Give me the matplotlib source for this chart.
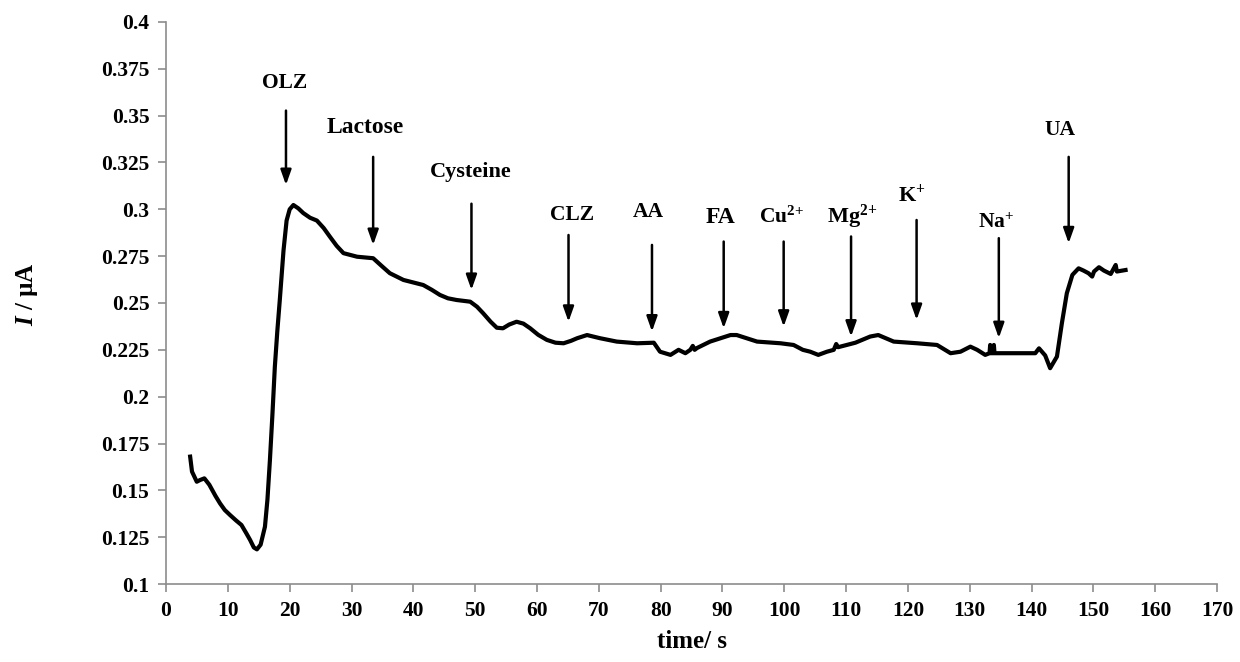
import matplotlib
matplotlib.use('Agg')
import matplotlib.pyplot as plt

# amperometric response, time (s) vs current (uA)
time_s = [
    3.9, 4.2, 4.97, 5.5, 6.2, 7.0, 8.0, 8.74, 9.5, 10.36, 11.3, 12.2, 13.0, 13.6,
    14.2, 14.7, 15.3, 16.0, 16.4, 16.8, 17.2, 17.6, 18.0, 18.4, 19.0, 19.5, 20.0,
    20.6, 21.4, 22.2, 23.3, 24.4, 25.5, 26.5, 27.6, 28.7, 30.9, 33.5, 34.8, 36.2,
    38.4, 41.6, 43.0, 44.3, 45.6, 47.0, 49.2, 50.3, 51.3, 52.5, 53.5, 54.5, 55.5,
    56.7, 57.8, 58.9, 60.2, 61.6, 63.0, 64.3, 65.5, 66.5, 68.1, 69.2, 70.2, 72.9,
    76.2, 78.9, 79.9, 81.6, 82.9, 84.0, 84.8, 85.2, 85.5, 85.9, 88.0, 91.3, 92.3,
    95.6, 99.4, 101.5, 103.0, 104.2, 105.5, 106.9, 108.0, 108.4, 108.7, 110.1,
    111.5, 113.9, 115.2, 117.7, 121.5, 124.7, 126.9, 128.5, 130.1, 131.2, 132.5,
    133.2, 133.3, 133.4, 133.8, 133.9, 134.0, 140.6, 141.2, 142.2, 143.0, 144.1,
    144.9, 145.7, 146.6, 147.6, 148.4, 149.2, 149.8, 150.1, 150.9, 151.7, 152.8,
    153.3, 153.6, 153.8, 155.2,
]
current_ua = [
    0.168, 0.160, 0.1546, 0.1555, 0.1564, 0.153, 0.147, 0.143, 0.1395, 0.1368,
    0.134, 0.1315, 0.127, 0.1235, 0.1195, 0.1185, 0.121, 0.1306, 0.145, 0.166,
    0.19, 0.216, 0.235, 0.2516, 0.278, 0.294, 0.300, 0.3023, 0.3005, 0.298,
    0.2955, 0.294, 0.290, 0.2854, 0.2805, 0.2766, 0.2747, 0.2739, 0.270, 0.2659,
    0.2623, 0.2596, 0.257, 0.2543, 0.2525, 0.2516, 0.2507, 0.248, 0.2445, 0.240,
    0.2368, 0.2365, 0.2385, 0.2400, 0.239, 0.2365, 0.233, 0.2303, 0.2288, 0.2285,
    0.2298, 0.2312, 0.2329, 0.232, 0.2312, 0.2294, 0.2285, 0.2288, 0.224, 0.2223,
    0.225, 0.2232, 0.225, 0.2271, 0.225, 0.226, 0.2294, 0.2329, 0.2329, 0.2294,
    0.2285, 0.2276, 0.2250, 0.224, 0.2223, 0.224, 0.225, 0.2281, 0.2264, 0.2276,
    0.2288, 0.2321, 0.2329, 0.2294, 0.2285, 0.2276, 0.2232, 0.224, 0.2267, 0.225,
    0.2223, 0.2232, 0.2276, 0.2232, 0.2232, 0.2276, 0.2232, 0.2232, 0.2258, 0.222,
    0.2152, 0.2214, 0.2392, 0.2552, 0.265, 0.2685, 0.2673, 0.2659, 0.2641, 0.2668,
    0.2691, 0.2673, 0.2655, 0.2685, 0.2703, 0.2668, 0.2676,
]

# injections: label, arrow time, arrow top, arrow tip, label position
species = ['OLZ', 'Lactose', 'Cysteine', 'CLZ', 'AA', 'FA',
           r'Cu$^{\text{2+}}$', r'Mg$^{\text{2+}}$', r'K$^{\text{+}}$',
           r'Na$^{\text{+}}$', 'UA']
arrow_t = [19.4, 33.5, 49.4, 65.1, 78.6, 90.2, 99.9, 110.8, 121.4, 134.7, 146.0]
arrow_top = [0.3527, 0.328, 0.303, 0.2863, 0.281, 0.2828, 0.2828, 0.2855, 0.2943, 0.2846, 0.328]
arrow_tip = [0.313, 0.281, 0.257, 0.240, 0.2348, 0.2365, 0.2374, 0.2321, 0.241, 0.2313, 0.2819]
label_x = [19.2, 32.2, 49.3, 65.6, 78.0, 89.7, 99.6, 111.0, 120.6, 134.2, 144.6]
label_y = [0.3675, 0.3435, 0.320, 0.297, 0.2988, 0.2954, 0.2958, 0.2958, 0.3077, 0.2926, 0.3424]
label_size = [15.5, 17, 16, 15.5, 15.5, 17, 15.5, 16, 16, 15.5, 15.5]

x_ticks = list(range(0, 171, 10))
y_ticks = [0.1, 0.125, 0.15, 0.175, 0.2, 0.225, 0.25, 0.275, 0.3, 0.325, 0.35, 0.375, 0.4]
y_ticklabels = ['0.1', '0.125', '0.15', '0.175', '0.2', '0.225', '0.25', '0.275',
                '0.3', '0.325', '0.35', '0.375', '0.4']

plt.rcParams.update({
    'font.family': 'Liberation Serif',
    'font.weight': 'bold',
    'mathtext.fontset': 'custom',
    'mathtext.rm': 'Liberation Serif:bold',
    'mathtext.bf': 'Liberation Serif:bold',
    'mathtext.it': 'Liberation Serif:italic:bold',
})

fig = plt.figure(figsize=(12.4, 6.62), dpi=100)
ax = fig.add_axes([0.1339, 0.1178, 0.8476, 0.849])

ax.plot(time_s, current_ua, color='black', linewidth=3.0, solid_joinstyle='round')

for lab, t, top, tip, lx, ly, fs in zip(species, arrow_t, arrow_top, arrow_tip,
                                        label_x, label_y, label_size):
    ax.annotate('', xy=(t, tip), xytext=(t, top),
                arrowprops=dict(arrowstyle='-|>,head_length=0.9,head_width=0.32',
                                lw=1.8, color='black', shrinkA=0, shrinkB=0))
    ax.text(lx, ly, lab, ha='center', va='center', fontsize=fs, fontweight='bold')

ax.set_xlim(0, 170)
ax.set_ylim(0.1, 0.4)
ax.set_xticks(x_ticks)
ax.set_yticks(y_ticks)
ax.set_yticklabels(y_ticklabels)
ax.tick_params(labelsize=15.5, color='#8c8c8c', length=6, width=1.2, pad=6)
for lbl in ax.get_xticklabels() + ax.get_yticklabels():
    lbl.set_fontweight('bold')

for side in ['top', 'right']:
    ax.spines[side].set_visible(False)
for side in ['left', 'bottom']:
    ax.spines[side].set_color('#8c8c8c')
    ax.spines[side].set_linewidth(1.2)

ax.set_xlabel('time/ s', fontsize=18, fontweight='bold', labelpad=7)
fig.text(0.022, 0.555, r'$\mathit{I}$ / µA', rotation=90, ha='center', va='center',
         fontsize=18, fontweight='bold')

fig.savefig('out.png', dpi=100)
